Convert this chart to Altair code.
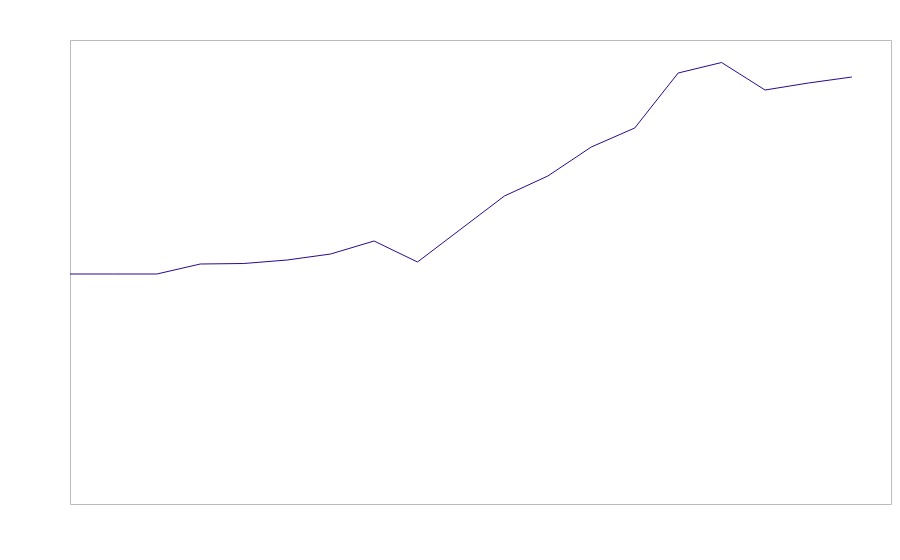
import altair as alt
import pandas as pd

idx = list(range(19))
values = [230, 230, 230, 240, 240.5, 244, 250, 263, 242, 275, 308, 328, 357, 376, 431, 441.5, 414, 421, 427]

df = pd.DataFrame({"i": idx, "v": values})

chart = alt.Chart(df).mark_line(color="#2a0a8f", strokeWidth=1).encode(
    x=alt.X("i:Q", scale=alt.Scale(domain=[0, 18.9], nice=False, zero=False), axis=None),
    y=alt.Y("v:Q", scale=alt.Scale(domain=[0, 464], nice=False), axis=None),
).properties(
    width=821, height=464,
    autosize=alt.AutoSizeParams(type="none"),
    padding={"left": 62, "top": 32, "right": 1, "bottom": 10},
).configure_view(stroke="#bbbbbb", strokeWidth=1)

chart.save("out.html", embed_options={"renderer": "svg", "actions": False})
